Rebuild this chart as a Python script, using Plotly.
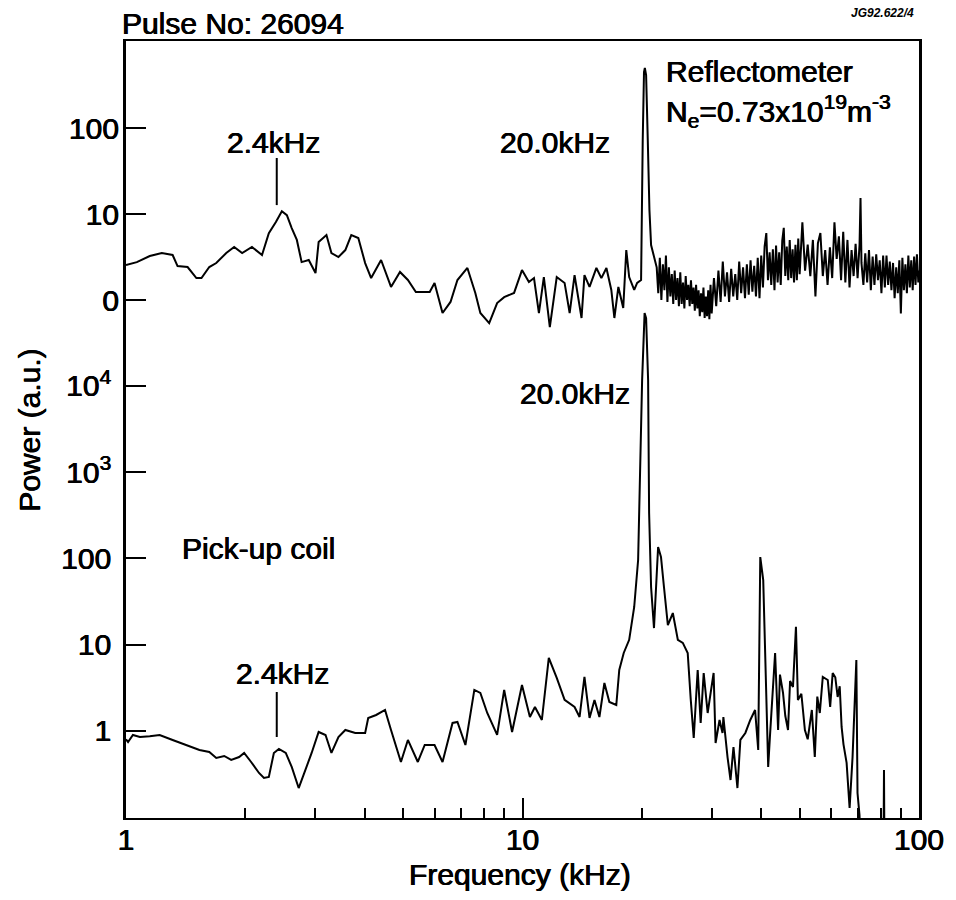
import plotly.graph_objects as go

# ---------------- data ----------------
# Reflectometer spectrum (upper curve) : frequency in kHz, power in a.u.
top_freq = [
    1.0, 1.065, 1.148, 1.231, 1.311, 1.349, 1.43, 1.505, 1.55, 1.622, 1.689, 1.79,
    1.874, 1.963, 2.078, 2.203, 2.292, 2.388, 2.472, 2.545, 2.618, 2.697, 2.773,
    2.89, 3.006, 3.061, 3.203, 3.297, 3.434, 3.574, 3.7, 3.854, 4.01, 4.152, 4.399,
    4.66, 4.909, 5.14, 5.383, 5.834, 6.0, 6.285, 6.583, 6.853, 7.261, 7.603, 7.829,
    8.241, 8.63, 8.99, 9.522, 9.97, 10.38, 10.69, 11.0, 11.32, 11.72, 12.2, 12.77,
    13.15, 13.53, 14.09, 14.33, 14.76, 15.36, 15.81, 16.28, 16.75, 17.05, 17.45,
    17.95, 18.27, 18.58, 19.13, 19.46, 19.91, 20.1, 20.25, 20.35, 20.5, 20.7, 20.9,
    21.1, 21.33,
    21.8, 22.0, 22.2, 22.4, 22.6, 22.8, 23.0, 23.2, 23.4, 23.6, 23.8, 24.0,
    24.2, 24.4, 24.6, 24.8, 25.0, 25.2, 25.4, 25.6, 25.8, 26.0, 26.2, 26.4,
    26.6, 26.8, 27.0, 27.2, 27.4, 27.6, 27.8, 28.0, 28.2, 28.4, 28.6, 28.8,
    29.0, 29.2, 29.4, 29.6, 29.8, 30.0,
    30.4, 30.8, 31.2, 31.6, 32.0, 32.4, 32.8, 33.2, 33.6, 34.0, 34.4, 34.8,
    35.2, 35.6, 36.0, 36.4, 36.8, 37.2, 37.6, 38.0, 38.4, 38.8, 39.2, 39.6,
    40.0, 40.4, 40.8, 41.2, 41.6, 42.0, 42.4, 42.8, 43.2, 43.6, 44.0, 44.4,
    44.8, 45.2, 45.6, 46.0, 46.4, 46.8, 47.2, 47.6, 48.0, 48.4, 48.8, 49.2,
    49.6, 50.0,
    50.8, 51.6, 52.4, 53.2, 54.0, 54.8, 55.6, 56.4, 57.2, 58.0, 58.8, 59.6,
    60.4, 61.2, 62.0, 62.8, 63.6, 64.4, 65.2, 66.0, 66.8, 67.6, 68.4, 69.2,
    70.0, 70.8, 71.2, 71.6, 72.4, 73.2, 74.0, 74.8, 75.6, 76.4, 77.2, 78.0,
    78.8, 79.6, 80.4, 81.2, 82.0, 82.8, 83.6, 84.4, 85.2, 86.0, 86.8, 87.6,
    88.4, 89.2, 90.0, 90.8, 91.6, 92.4, 93.2, 94.0, 94.8, 95.6, 96.4, 97.2,
    98.0, 98.8, 99.6, 100.0,
]
top_power = [
    2.55, 2.76, 3.25, 3.52, 3.34, 2.48, 2.42, 1.8, 1.8, 2.42, 2.69, 3.52,
    4.14, 3.52, 4.14, 3.34, 6.0, 8.07, 10.8, 9.7, 6.87, 5.0, 2.76,
    2.92, 2.06, 4.73, 5.7, 3.52, 3.16, 3.81, 5.7, 5.26, 2.69, 1.8, 2.92,
    1.42, 2.12, 1.71, 1.24, 1.24, 1.58, 0.706, 0.95, 1.71, 2.36, 1.21, 0.706,
    0.54, 0.923, 1.08, 1.21, 2.23, 1.62, 1.8, 0.706, 1.85, 0.485, 1.85, 1.58,
    0.706, 1.95, 0.618, 1.95, 1.42, 2.36, 1.8, 2.36, 1.31, 0.618, 1.42,
    0.807, 3.81, 1.85, 1.31, 1.58, 1.71, 72, 448, 500, 413, 72, 11.1,
    4.36, 3.52,
    2.4, 1.2, 3.1, 1.0, 2.6, 1.3, 3.3, 0.95, 2.4, 1.1, 2.0, 0.9,
    2.2, 1.0, 1.8, 0.85, 2.1, 0.9, 1.6, 0.8, 1.9, 1.0, 1.5, 0.85,
    1.7, 0.9, 1.4, 0.75, 1.5, 0.8, 1.3, 0.65, 1.2, 0.72, 1.4, 0.62,
    1.1, 0.65, 1.3, 0.6, 1.5, 0.7,
    1.8, 0.85, 2.2, 0.95, 2.8, 1.1, 2.1, 0.95, 2.3, 1.1, 2.0, 1.0,
    2.8, 1.2, 2.4, 1.05, 2.6, 1.15, 2.9, 1.25, 2.5, 1.1, 3.1, 1.05,
    3.3, 1.4, 4.2, 6.0, 1.7, 3.6, 1.5, 3.9, 1.3, 4.3, 1.6, 3.6,
    1.5, 4.9, 6.9, 1.9, 4.2, 1.7, 5.0, 1.8, 3.9, 1.6, 4.4, 1.7,
    5.2, 2.0,
    8.0, 2.2, 4.4, 1.9, 5.0, 1.1, 4.6, 6.0, 1.9, 3.8, 1.5, 4.1,
    1.8, 8.0, 3.0, 5.5, 1.7, 6.2, 1.6, 5.0, 1.4, 3.8, 1.9, 4.5,
    1.8, 4.4, 15.4, 2.7, 1.5, 3.5, 1.6, 3.8, 1.3, 3.2, 1.5, 3.4,
    1.7, 2.9, 1.2, 3.3, 1.4, 3.3, 1.5, 2.8, 1.3, 2.7, 1.05, 2.4,
    1.2, 2.9, 0.7, 3.1, 1.3, 2.6, 1.2, 3.3, 1.4, 2.9, 1.3, 3.2,
    1.5, 3.4, 1.6, 2.2,
]

# Pick-up coil spectrum (lower curve)
bot_freq = [
    1.0, 1.012, 1.041, 1.084, 1.148, 1.216, 1.311, 1.421, 1.532, 1.622, 1.689,
    1.769, 1.842, 1.929, 1.986, 2.068, 2.165, 2.228, 2.292, 2.36, 2.43, 2.529,
    2.618, 2.726, 2.839, 2.939, 3.061, 3.186, 3.297, 3.434, 3.574, 3.786, 4.01,
    4.082, 4.274, 4.501, 4.66, 4.936, 5.14, 5.445, 5.668, 6.0, 6.285, 6.661,
    6.853, 7.178, 7.56, 7.829, 8.149, 8.63, 8.99, 9.413, 9.97, 10.44, 10.75,
    11.19, 11.65, 12.2, 12.77, 13.53, 13.93, 14.33, 14.76, 15.19, 15.63, 16.09,
    16.56, 17.24, 17.54, 18.0, 18.58, 19.13, 19.57, 19.8, 20.03, 20.32, 20.5,
    20.74, 20.86, 21.1, 21.46, 21.98, 22.35, 22.74, 23.26, 23.94, 24.65, 25.37,
    26.1, 26.57, 27.03, 27.66, 28.14, 28.64, 29.31, 29.82, 30.34, 30.69, 31.4,
    31.95, 32.11, 32.89, 33.47, 34.05, 34.84, 35.44, 36.48, 37.54, 38.6, 39.31,
    39.78, 40.47, 40.93, 41.65, 42.1, 42.6, 43.36, 44.12, 44.6, 45.4, 46.0,
    46.74, 47.3, 48.1, 48.94, 49.5, 50.5, 51.55, 52.4, 53.67, 54.6, 55.4,
    56.21, 57.19, 58.87, 59.7, 60.58, 61.5, 62.35, 63.1, 63.8, 64.5, 65.68,
    66.83, 67.99, 69.5, 69.97, 70.78, 71.2, 81.4, 81.6, 81.8, 100.0,
]
bot_power = [
    0.8, 0.746, 0.899, 0.852, 0.87, 0.899, 0.787, 0.688, 0.602, 0.571, 0.486,
    0.513, 0.461, 0.499, 0.556, 0.437, 0.326, 0.285, 0.293, 0.556, 0.618, 0.556,
    0.383, 0.218, 0.353, 0.556, 0.974, 0.899, 0.556, 0.852, 1.027, 0.948, 0.948,
    1.415, 1.533, 1.752, 1.027, 0.437, 0.787, 0.437, 0.688, 0.688, 0.437, 1.238,
    1.271, 0.688, 2.99, 2.76, 1.617, 0.899, 2.99, 0.974, 3.41, 1.453, 1.898,
    1.341, 7.02, 4.12, 2.29, 1.898, 1.453, 4.23, 1.415, 2.29, 1.453, 3.6,
    2.17, 2.0, 5.1, 8.02, 11.4, 27.4, 96, 813, 11700, 70000, 61000,
    11700, 337, 46.7, 15.6, 136, 104, 46.7, 16.9, 23.3, 11.4, 10.5,
    8.02, 2.29, 0.829, 5.1, 1.238, 4.7, 1.617, 2.76, 4.7, 0.726, 1.341,
    0.948, 1.453, 0.499, 0.27, 0.652, 0.218, 0.787, 0.948, 1.341, 1.752, 0.602,
    104, 56.3, 8.02, 0.383, 0.9, 2.29, 8.02, 1.027, 4.5, 2.76, 1.5,
    1.027, 3.8, 3.24, 16.1, 2.29, 2.7, 1.027, 0.8, 1.752, 0.499, 2.5,
    1.617, 4.23, 3.9, 1.9, 4.7, 4.2, 2.48, 3.3, 1.113, 0.7, 0.426,
    0.128, 0.499, 6.66, 0.191, 0.106, 0.05, 0.05, 0.353, 0.05, 0.05,
]

# peak marker lines at 2.4 kHz
marker_freq = [2.4, 2.4]
top_marker = [12.7, 44.8]
bot_marker = [0.852, 2.83]

# axis ticks
x_tick_vals = [1, 10, 100]
x_tick_text = ["1", "10", "100"]
x_minor_tick_vals = [2, 3, 4, 5, 6, 7, 8, 9, 20, 30, 40, 50, 60, 70, 80, 90]
bot_tick_vals = [1, 10, 100, 1000, 10000]
bot_tick_text = ["1", "10", "100", "10<sup>3</sup>", "10<sup>4</sup>"]
top_tick_vals = [1, 10, 100]
top_tick_text = ["0", "10", "100"]

# ---------------- layout geometry ----------------
W, H = 956, 900
L, R, T, B = 126, 925, 41, 818
FONT = "Liberation Sans, Arial, Helvetica, sans-serif"
FS = 30
HEAVY = "0.4px 0px 0px black, -0.4px 0px 0px black"


def px(x):
    return (x - L) / (R - L)


def py(y):
    return (B - y) / (B - T)


fig = go.Figure()
line = dict(color="black", width=2)
fig.add_trace(go.Scatter(x=top_freq, y=top_power, mode="lines", line=line,
                         yaxis="y2", showlegend=False))
fig.add_trace(go.Scatter(x=bot_freq, y=bot_power, mode="lines", line=line,
                         showlegend=False))
fig.add_trace(go.Scatter(x=marker_freq, y=top_marker, mode="lines", line=line,
                         yaxis="y2", showlegend=False))
fig.add_trace(go.Scatter(x=marker_freq, y=bot_marker, mode="lines", line=line,
                         xaxis="x2", showlegend=False))

tickfont = dict(family=FONT, size=FS, color="black", shadow=HEAVY)

fig.update_layout(
    width=W, height=H,
    margin=dict(l=L, r=W - R, t=T, b=H - B, pad=0),
    paper_bgcolor="white", plot_bgcolor="white",
    # main x axis: decade ticks (long) with labels
    xaxis=dict(
        type="log", range=[0, 2], tickvals=x_tick_vals, ticktext=x_tick_text,
        ticks="inside", ticklen=20, tickwidth=2, tickcolor="black",
        showline=True, linewidth=2, linecolor="black", mirror=True,
        showgrid=False, zeroline=False, tickfont=tickfont,
        ticklabelstandoff=-6,
    ),
    # overlay x axis: short intermediate ticks, no labels
    xaxis2=dict(
        type="log", range=[0, 2], tickvals=x_minor_tick_vals,
        showticklabels=False, overlaying="x", side="bottom", anchor="y",
        ticks="inside", ticklen=10, tickwidth=2, tickcolor="black",
        showline=False, showgrid=False, zeroline=False,
    ),
    yaxis=dict(
        type="log", range=[-1.009, 8.0], tickvals=bot_tick_vals,
        ticktext=bot_tick_text, ticks="inside", ticklen=20, tickwidth=2,
        tickcolor="black", showline=True, linewidth=2.5, linecolor="black",
        mirror=True, showgrid=False, zeroline=False, tickfont=tickfont,
        ticklabelstandoff=6,
    ),
    yaxis2=dict(
        type="log", range=[-6.023, 3.012], tickvals=top_tick_vals,
        ticktext=top_tick_text, overlaying="y", side="left", anchor="x",
        ticks="inside", ticklen=20, tickwidth=2, tickcolor="black",
        showline=False, showgrid=False, zeroline=False, tickfont=tickfont,
        ticklabelstandoff=6,
    ),
)

ann = []


def text(t, x, y, xanchor="center", size=FS, angle=0, **kw):
    font = dict(family=FONT, size=size, color="black", shadow=HEAVY)
    font.update(kw)
    ann.append(dict(text=t, x=px(x), y=py(y), xref="paper", yref="paper",
                    xanchor=xanchor, yanchor="middle", showarrow=False,
                    textangle=angle, font=font))


text("Pulse No: 26094", 120, 23, xanchor="left")
text("JG92.622/4", 922, 13, xanchor="right", size=12, weight="bold",
     style="italic", shadow="none")
text("2.4kHz", 275, 143)
text("20.0kHz", 558, 143)
text("Reflectometer", 668, 72, xanchor="left")
text("N<sub>e</sub>=0.73x10<sup>19</sup>m<sup>-3</sup>", 668, 111, xanchor="left")
text("20.0kHz", 578, 393)
text("Pick-up coil", 180, 548, xanchor="left")
text("2.4kHz", 284, 673)
text("Power (a.u.)", 29, 430, angle=-90)
text("Frequency (kHz)", 523, 874)
fig.update_layout(annotations=ann)

fig.write_html("out.html")
